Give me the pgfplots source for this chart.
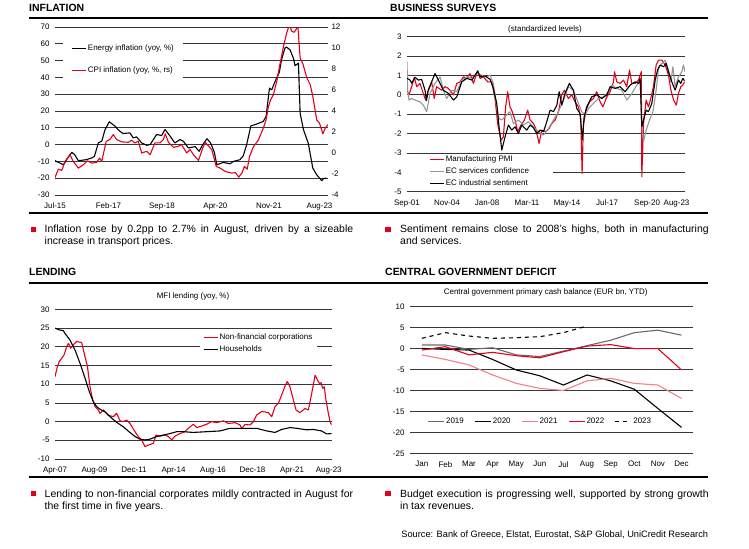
\documentclass[border=0pt]{standalone}
\usepackage{pgfplots}
\pgfplotsset{compat=1.18}
\usepackage{fontspec}
\setmainfont{Liberation Sans}
\definecolor{ucred}{RGB}{226,0,26}
\definecolor{ucgray}{RGB}{150,150,150}
\definecolor{dgray}{RGB}{105,105,105}
\definecolor{lred}{RGB}{242,128,138}
\definecolor{gridc}{RGB}{55,55,55}
\newcommand{\chartfont}{\fontsize{8}{9.6}\selectfont}
\newcommand{\bodyfont}{\fontsize{10.5}{13}\selectfont\hyphenpenalty=10000\exhyphenpenalty=10000}
\newcommand{\titlefont}{\fontsize{10.5}{12}\selectfont\bfseries}
\pgfplotsset{
  ucbase/.style={
    scale only axis,
    axis line style={draw=none},
    major tick length=0pt,
    tick style={draw=none},
    ymajorgrids,
    grid style={gridc, line width=0.7pt},
    tick label style={font=\chartfont},
    yticklabel style={xshift=-2bp},
    xticklabel style={yshift=-4.5bp},
    /pgf/number format/assume math mode=true,
    legend style={font=\chartfont, draw=none, fill=white, legend cell align=left,
      nodes={inner sep=1.5bp}},
    legend image code/.code={\draw[#1] (0bp,0bp) -- (14bp,0bp);},
    every axis plot/.append style={line width=1.1pt, line join=round},
  },
}
\begin{document}
\begin{tikzpicture}
\path[use as bounding box] (0,0) rectangle (749bp,-549bp);
% ---------- rules ----------
\draw[line width=1.7bp] (29bp,-18bp) -- (708bp,-18bp);
\draw[line width=1.7bp] (29bp,-213bp) -- (708bp,-213bp);
\draw[line width=1.7bp] (29bp,-283bp) -- (708bp,-283bp);
\draw[line width=1.7bp] (29bp,-477bp) -- (708bp,-477bp);
% ---------- titles ----------
\node[anchor=base west, inner sep=0] at (29bp,-11bp) {\titlefont INFLATION};
\node[anchor=base west, inner sep=0] at (390bp,-11bp) {\titlefont BUSINESS SURVEYS};
\node[anchor=base west, inner sep=0] at (29bp,-275bp) {\titlefont LENDING};
\node[anchor=base west, inner sep=0] at (385bp,-275bp) {\titlefont CENTRAL GOVERNMENT DEFICIT};
% subtitles
\node[anchor=base, inner sep=0] at (545bp,-31.5bp) {\chartfont (standardized levels)};
\node[anchor=base, inner sep=0] at (193bp,-298.5bp) {\chartfont MFI lending (yoy, \%)};
\node[anchor=base, inner sep=0] at (545.7bp,-294.5bp) {\chartfont Central government primary cash balance (EUR bn, YTD)};
% ---------- bullets ----------
\fill[ucred] (30.7bp,-226.7bp) rectangle (36.2bp,-232.2bp);
\fill[ucred] (385bp,-226.7bp) rectangle (390.5bp,-232.2bp);
\fill[ucred] (30.7bp,-490.7bp) rectangle (36.2bp,-496.2bp);
\fill[ucred] (385bp,-490.7bp) rectangle (390.5bp,-496.2bp);
\node[anchor=north west, inner sep=0, text width=308.5bp, align=justify] at (44.5bp,-225.2bp)
  {\bodyfont Inflation rose by 0.2pp to 2.7\% in August, driven by a sizeable\linebreak increase in transport prices.};
\node[anchor=north west, inner sep=0, text width=308.5bp, align=justify] at (400bp,-225.2bp)
  {\bodyfont Sentiment remains close to 2008's highs, both in manufacturing\linebreak and services.};
\node[anchor=north west, inner sep=0, text width=308.5bp, align=justify] at (44.5bp,-489.5bp)
  {\bodyfont Lending to non-financial corporates mildly contracted in August for\linebreak the first time in five years.};
\node[anchor=north west, inner sep=0, text width=308.5bp, align=justify] at (400bp,-489.5bp)
  {\bodyfont Budget execution is progressing well, supported by strong growth\linebreak in tax revenues.};
\node[anchor=base east, inner sep=0] at (708.3bp,-537.6bp)
  {\fontsize{9.3}{11}\selectfont Source: Bank of Greece, Elstat, Eurostat, S\&P Global, UniCredit Research};

% ================= INFLATION =================
\begin{axis}[ucbase, at={(55bp,-195bp)}, anchor=south west, width=273bp, height=168bp,
  xmin=0, xmax=97, ymin=-30, ymax=70, ytick={-30,-20,...,70},
  xtick={0,19,38,57,76,94}, xticklabels={Jul-15,Feb-17,Sep-18,Apr-20,Nov-21,Aug-23},
  legend style={at={(0.03,0.9405)}, anchor=north west, row sep=12.5bp, inner xsep=8bp, inner ysep=5.75bp}]
\addplot[black] coordinates {
(0,-9.6) (1.5,-10.8) (3,-12) (4.5,-8) (6,-4.6) (7,-6) (8.3,-9.6) (11,-9) (13,-8) (14,-7)
(15.4,1) (16.6,2) (17.8,9) (19.3,13.6) (21.3,11) (23,8) (24.2,6.6) (26.6,7) (27.8,4) (29,4.6)
(30.8,1) (32.6,-0.4) (33.8,0) (36.1,6) (37.9,5.4) (39.1,9) (40.9,5) (42.6,1) (44.4,3) (45.6,2)
(47.4,-2) (49.8,-1.2) (51.2,-4) (52.5,0) (54,3.5) (55.3,1) (56.6,-4.5) (57.5,-12) (59.8,-10.6)
(62.2,-11.4) (63.4,-10) (65.7,-9) (66.9,-6.7) (68.1,0) (69.6,11.2) (71,11.8) (74,13.8) (75,16.7)
(76.2,33.6) (77,32.6) (78.2,37.6) (79.7,43) (80.5,50.5) (81.7,57.5) (82.3,58) (83.5,56.5)
(84.7,51.5) (85.3,47) (86.5,48.5) (87.1,18.7) (88.3,8.8) (90,0.8) (91.6,-14) (93,-18)
(94.8,-21.5) (95.4,-20.2) (96.4,-19.9)};
\addlegendentry{Energy inflation (yoy, \%)}
\addlegendimage{ucred, line width=1.1pt}
\addlegendentry{CPI inflation (yoy, \%, rs)}
\end{axis}
\begin{axis}[ucbase, at={(55bp,-195bp)}, anchor=south west, width=273bp, height=168bp,
  ymajorgrids=false, axis y line*=right, axis x line=none,
  yticklabel style={xshift=2bp},
  xmin=0, xmax=97, ymin=-4, ymax=12, ytick={-4,-2,...,12}]
\addplot[ucred] coordinates {
(0,-2.34) (1.2,-1.54) (2.4,-1.66) (3.6,-0.8) (5.3,-0.16) (6.5,-0.8) (8.3,-1.44) (10.1,-1.12)
(11.5,-0.74) (13,-0.96) (14.8,-0.9) (15.8,-0.48) (16.6,-0.8) (18.2,1.12) (19.5,1.28) (20.7,1.76)
(21.9,1.28) (23.7,1.06) (26.1,1.02) (27.2,1.22) (28.4,0.96) (29.6,1.12) (30.8,0) (32.6,0.16)
(33.8,-0.16) (35.5,0.96) (37.3,0.96) (38.5,1.28) (39.2,1.82) (40.3,1.02) (42.1,0.54) (43.8,0.64)
(45,0.8) (46.8,0) (48,0.32) (49.2,-0.16) (51,-0.7) (52.5,0.48) (53.4,1.02) (54.6,0.64) (55.7,0.32)
(57.3,-1.28) (58.7,-1.44) (60.5,-1.76) (62.9,-1.92) (64.1,-1.86) (65.3,-2.3) (66.5,-1.86)
(67.3,-1.28) (68.3,-1.54) (69.1,-0.35) (70.5,0.6) (72.3,1.25) (74,2.36) (75,3.15) (75.8,4.37)
(76.6,5.07) (77.6,5.54) (78.8,6.82) (80,8.56) (81.2,10.16) (82.3,11.42) (83,12) (83.5,12.1)
(84.1,11.6) (85,11.5) (86,11.9) (86.3,12.1) (87.1,9.04) (88,8.56) (89.5,7.14) (90.7,6.5)
(91.6,5.4) (93,3.15) (94,2.83) (95.2,1.82) (96,2.37) (97,2.7)};
\end{axis}

% ================= BUSINESS SURVEYS =================
\begin{axis}[ucbase, at={(407bp,-191.7bp)}, anchor=south west, width=278bp, height=155bp,
  xmin=0, xmax=264, ymin=-5, ymax=3, ytick={-5,-4,...,3},
  xtick={0,38,76,114,152,190,228,256},
  xticklabels={Sep-01,Nov-04,Jan-08,Mar-11,May-14,Jul-17,Sep-20,Aug-23},
  legend style={at={(0,0.243)}, anchor=north west, row sep=1.85bp, inner xsep=22bp, inner ysep=0bp}]
\addplot[ucred] coordinates {
(0,0.24)(1.9,0)(4.4,0.42)(7,0.9)(9.2,0.42)(12.3,0.59)(15.5,0.07)(17.7,-0.27)(20.3,0.24)(23.4,0.67)
(25.9,-0.19)(28.1,0.42)(32.9,0.24)(36.1,0.42)(39.3,0.33)(44.1,0)(47.3,0.59)(50.4,0.67)(53.6,0.93)
(56.7,0.85)(59.9,1.1)(63.1,0.59)(64.6,0.85)(67.2,1.19)(69.4,0.85)(72.5,0.93)(76.7,0.67)(80.5,0.67)
(83.6,-0.19)(86.1,-1.48)(89.3,-2.34)(91.5,-2.17)(93.7,-0.62)(95.6,0.16)(97.8,-0.62)(100,-0.87)
(102.6,-1.3)(105.1,-1.9)(108.3,-1.56)(111.5,-1.3)(114.6,-0.79)(116.9,-1.3)(120.1,-1.48)(122.3,-1.74)
(125.4,-2.51)(128,-1.82)(131.8,-1.9)(134.9,-1.74)(137.5,-1.48)(140.6,-1.3)(143.8,-0.87)(147,0)
(149.5,0.24)(153.3,-0.19)(156.4,0)(159.6,-0.36)(162.8,-0.62)(165,-1.22)(166.3,-4.06)(167.5,-1.56)
(170.1,-0.79)(173.3,-0.36)(177.1,-0.19)(180.2,0.16)(183.4,-0.36)(186,-0.62)(189.8,-0.1)(192.9,0.16)
(196.1,0.67)(197.1,1.19)(199.2,0.67)(202.4,0.59)(205.6,0.76)(208.7,0.42)(211.3,1.28)(213.5,0.59)
(216.6,0.59)(219.8,0.76)(222,1.1)(222.5,1.2)(223,-4.23)(224.6,-1.48)(227.1,-0.27)(229.3,-0.62)
(231.5,-0.19)(234,0.42)(236.6,1.54)(238.9,1.79)(242,1.79)(245.2,1.54)(248.3,1.02)(250.6,0.24)
(253.2,-0.27)(255.7,-0.53)(257.8,0.07)(260,0.42)(261.9,0.5)(263.5,0.67)};
\addlegendentry{Manufacturing PMI}
\addplot[ucgray] coordinates {
(0,1.7)(0.6,0.24)(1.9,-0.27)(4.4,-0.19)(7.6,-0.27)(12.3,-0.36)(15.5,-0.53)(18.7,-0.87)(21.8,0.07)
(26.6,0.59)(31.4,0.93)(34.5,0.24)(37.7,-0.19)(42.4,0.24)(47.3,0.16)(52,0.76)(56.7,0.93)(61.6,0.85)
(66.3,1.1)(71,1.02)(75.8,0.93)(78.9,1.02)(82,0.59)(85.2,-0.62)(87.4,-1.22)(90,-1.3)(93.1,-1.13)
(97.8,-0.87)(101,-1.48)(105.8,-1.3)(110.5,-1.56)(115.3,-1.39)(120.1,-1.65)(124.8,-1.9)(129.6,-2.08)
(134.3,-1.74)(139.1,-1.3)(143.8,-0.87)(148.6,-0.27)(153.3,0.42)(158,0.24)(162.8,-0.44)(166,-0.87)
(169.2,-1.05)(172.3,-0.7)(177.1,-0.44)(181.8,-0.19)(186.6,-0.1)(191.3,0.16)(194.5,0.5)(199.2,0.33)
(204,0.24)(208.7,-0.27)(213.5,0.07)(218.2,0.5)(221.4,0.67)(223.3,-1.82)(224.6,-2.42)(227.1,-1.82)
(230.3,-1.3)(233.5,-0.87)(236.6,0.24)(238.9,1.36)(242,1.62)(245.2,1.79)(248.3,1.28)(250.6,0.67)
(252.5,1.45)(254.6,0.42)(257.8,0.93)(261,1.19)(262.5,1.54)(264,1.19)};
\addlegendentry{EC services confidence}
\addplot[black] coordinates {
(0,0.85)(2.9,0.76)(4.4,0.6)(7.6,0.9)(10.8,0.76)(13.9,0.8)(17.1,0.24)(18.5,-0.3)(20,0.2)(23.4,0.67)
(26.6,1.1)(29.8,0.76)(34.5,0.24)(39.3,0.07)(44.1,-0.27)(47.3,-0.1)(52,0.67)(56.7,0.85)(61.6,0.76)
(64.6,1.02)(67.2,1.24)(69.4,0.93)(74.1,0.97)(78.9,0.8)(82,0.33)(85.2,-0.44)(87.4,-1.65)(90,-2.85)
(93.1,-2.17)(96.3,-1.56)(99.5,-1.82)(102.6,-1.65)(105.8,-2.0)(109,-1.56)(113.7,-1.82)(116.9,-1.56)
(120.1,-1.7)(123.2,-2.0)(126.4,-1.82)(129.6,-1.9)(132.7,-1.39)(135.9,-0.79)(139.1,-0.87)(142.3,-0.53)
(144.5,0.16)(147,-0.53)(150.1,0.08)(154.2,0.59)(158,0.24)(161.2,-0.7)(164.3,-0.96)(166.6,-2.3)
(168.2,-1.13)(170.7,-0.62)(175.5,-0.1)(180.2,0)(185,-0.19)(189.8,0)(192.9,0.42)(197.7,0.33)
(202.4,0.42)(207.1,0.16)(211.9,0.5)(216.6,0.67)(219.8,0.59)(221.4,0.85)(223,-1.65)(224.6,-1.3)
(227.1,-0.79)(229.3,-0.87)(232.5,-0.44)(235.7,0.76)(237.9,1.28)(240.4,1.54)(243.6,1.45)(246.1,1.62)
(248.3,1.19)(251.5,0.67)(254.6,0.24)(257.8,0.76)(260,0.59)(261.9,0.85)(263.5,0.73)};
\addlegendentry{EC industrial sentiment}
\end{axis}

% ================= LENDING =================
\begin{axis}[ucbase, at={(55bp,-459bp)}, anchor=south west, width=276.6bp, height=149.7bp,
  xmin=0, xmax=196, ymin=-10, ymax=30, ytick={-10,-5,...,30},
  xtick={0,28,56,84,112,140,168,194},
  xticklabels={Apr-07,Aug-09,Dec-11,Apr-14,Aug-16,Dec-18,Apr-21,Aug-23},
  legend style={at={(0.524,0.855)}, anchor=north west, row sep=1.5bp, inner xsep=3bp, inner ysep=1bp}]
\addplot[ucred] coordinates {
(0,12)(1.7,14.7)(3,16)(4.7,16.9)(6.4,17.8)(8.3,20)(9.5,20.9)(11.1,19.6)(13,20.5)(15.4,21.4)(18.9,21.1)
(21.3,17.3)(23,14.7)(24.8,9.3)(26.7,5.8)(28.4,4)(30.7,3.1)(31.9,2.2)(34.3,3.1)(37.8,1.7)(41.3,1.3)
(43.7,2.2)(46.1,0.2)(48.4,0)(50.8,0.4)(53.1,-0.5)(56.7,-2.7)(59,-4)(61.4,-4.9)(63.8,-6.7)(66.1,-6.3)
(69.7,-5.8)(71.6,-3.6)(74.4,-3.9)(78,-3.6)(80.3,-4)(82.7,-4.9)(85,-3.9)(88.6,-3.2)(92.1,-2.7)
(94.5,-1.8)(98,-0.7)(100.4,-1.6)(103.9,-1.2)(107.5,-0.7)(111,0)(114.6,-0.3)(119.3,0.2)(122.8,-0.5)
(127.6,-0.3)(131.1,-0.9)(132.3,-1.8)(134.7,-0.8)(138.2,-0.9)(140.6,0)(143,1.8)(146.5,2.7)(151.2,2.4)
(153.6,1.3)(155.9,4)(158.3,4.9)(160.6,7.1)(163,9.5)(164.6,10.7)(166.5,9.3)(168.9,5.8)(170.8,3.1)
(173.6,2.4)(177.2,3.5)(179.5,3.1)(181.9,7.5)(184.3,12.4)(185.4,11.6)(187.3,10.2)(188.5,10.4)
(189.7,8.9)(190.8,9.3)(192,5.8)(193.7,2.2)(194.9,0)(196,-0.9)};
\addlegendentry{Non-financial corporations}
\addplot[black] coordinates {
(0,25)(3,24.5)(5.9,24.3)(7,23.6)(10.6,21.8)(14.2,19.1)(17.7,15.6)(21.3,11.6)(24.3,8)(27.2,5.3)
(29.5,4)(31.9,3.3)(35.4,2.6)(39,1.3)(43.7,-0.2)(48.4,-1.4)(53.1,-2.9)(56.7,-4)(60.2,-4.7)(63.8,-4.9)
(67.3,-4.7)(72.1,-4)(76.8,-3.6)(81.5,-3.2)(86.2,-2.7)(91,-2.7)(98,-2.9)(107.5,-2.7)(116.9,-2.5)
(124,-1.8)(133.5,-1.8)(142.9,-1.8)(150,-2.5)(155.9,-2.9)(160.6,-2.1)(166.5,-1.6)(171.3,-1.8)
(178.3,-2.2)(183,-2.1)(188.9,-2.5)(192.5,-3.3)(196,-3.2)};
\addlegendentry{Households}
\end{axis}

% ================= DEFICIT =================
\begin{axis}[ucbase, at={(410bp,-453.3bp)}, anchor=south west, width=283.3bp, height=146.6bp,
  xmin=-0.5, xmax=11.5, ymin=-25, ymax=10, ytick={-25,-20,...,10},
  xtick={0,...,11}, xticklabels={Jan,Feb,Mar,Apr,May,Jun,Jul,Aug,Sep,Oct,Nov,Dec},
  legend columns=5,
  legend image code/.code={\draw[#1] (0bp,0bp) -- (16bp,0bp);},
  legend style={at={(0.459,0.2155)}, anchor=center, fill=none, inner sep=0bp,
    /tikz/every even column/.append style={column sep=9bp}}]
\addplot[dgray] coordinates {(0,0.85)(1,0.85)(2,-0.2)(3,0.2)(4,-1.5)(5,-1.9)(6,-0.6)(7,0.7)(8,2.0)(9,3.8)(10,4.4)(11,3.2)};
\addlegendentry{2019}
\addplot[black] coordinates {(0,0.05)(1,-0.2)(2,-0.35)(3,-2.6)(4,-5.1)(5,-6.5)(6,-8.7)(7,-6.3)(8,-7.7)(9,-9.7)(10,-14.3)(11,-18.8)};
\addlegendentry{2020}
\addplot[lred] coordinates {(0,-1.5)(1,-2.6)(2,-3.9)(3,-6.3)(4,-8.3)(5,-9.5)(6,-10)(7,-7.7)(8,-7.1)(9,-8.3)(10,-8.7)(11,-11.9)};
\addlegendentry{2021}
\addplot[ucred] coordinates {(0,-0.35)(1,0.45)(2,-1.5)(3,-0.9)(4,-1.7)(5,-2.2)(6,-0.75)(7,0.6)(8,0.95)(9,0)(10,0)(11,-5.1)};
\addlegendentry{2022}
\addplot[black, dashed, dash pattern=on 4bp off 4bp] coordinates {(0,2.45)(1,3.8)(2,3.0)(3,2.45)(4,2.6)(5,2.85)(6,3.8)(7,5.4)};
\addlegendentry{2023}
\end{axis}
\end{tikzpicture}
\end{document}
